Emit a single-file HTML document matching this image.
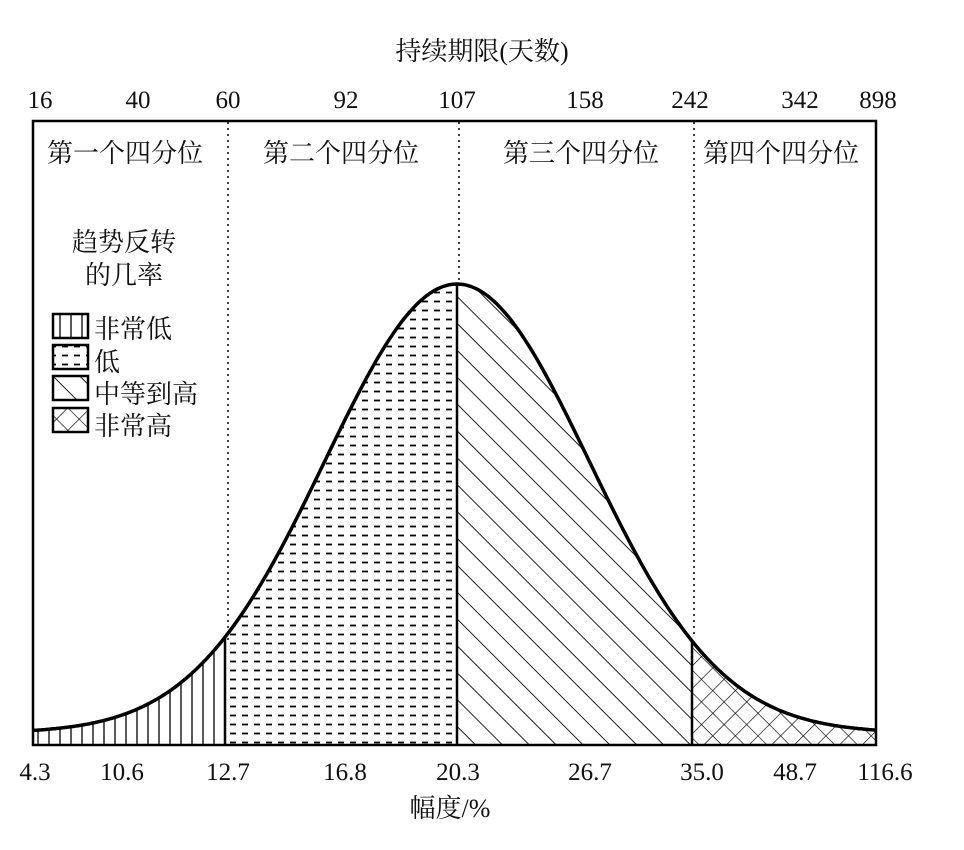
<!DOCTYPE html>
<html><head><meta charset="utf-8"><style>
body{margin:0;background:#fff;width:964px;height:850px;overflow:hidden}
svg{display:block}
text{fill:#111}
.n{font-family:"Liberation Serif",serif;font-size:25px}
.c{font-family:"Liberation Serif","Noto Serif CJK SC",serif;font-size:26px}
</style></head><body>
<svg id="s" width="964" height="850" xmlns="http://www.w3.org/2000/svg">
<defs>
<pattern id="pv" width="11" height="10" patternUnits="userSpaceOnUse"><line x1="5" y1="0" x2="5" y2="10" stroke="#000" stroke-width="1.3"/></pattern>
<pattern id="pd" width="12" height="9" patternUnits="userSpaceOnUse"><line x1="2" y1="4.5" x2="8" y2="4.5" stroke="#000" stroke-width="1.8"/></pattern>
<pattern id="ph" width="19" height="19" patternUnits="userSpaceOnUse" patternTransform="rotate(45)"><line x1="0" y1="0" x2="19" y2="0" stroke="#000" stroke-width="1.8"/></pattern>
<pattern id="px" width="16" height="16" patternUnits="userSpaceOnUse" patternTransform="rotate(45)"><line x1="0" y1="0" x2="16" y2="0" stroke="#000" stroke-width="1.3"/><line x1="0" y1="0" x2="0" y2="16" stroke="#000" stroke-width="1.3"/></pattern>
<clipPath id="cl"><path id="cp"/></clipPath>
</defs>
<text class="c" x="482" y="60" text-anchor="middle" font-size="27">持续期限(天数)</text>
<g class="n" text-anchor="middle">
<text x="40" y="108">16</text><text x="138" y="108">40</text><text x="228" y="108">60</text><text x="346" y="108">92</text><text x="457" y="108">107</text><text x="585" y="108">158</text><text x="690" y="108">242</text><text x="800" y="108">342</text><text x="878" y="108">898</text>
<text x="35" y="780">4.3</text><text x="122" y="780">10.6</text><text x="228" y="780">12.7</text><text x="345" y="780">16.8</text><text x="458" y="780">20.3</text><text x="590" y="780">26.7</text><text x="702" y="780">35.0</text><text x="795" y="780">48.7</text><text x="885" y="780">116.6</text>
</g>
<text class="c" x="450" y="817" text-anchor="middle">幅度/%</text>
<g clip-path="url(#cl)">
<rect x="33" y="250" width="192" height="500" fill="url(#pv)"/>
<rect x="225" y="250" width="232" height="500" fill="url(#pd)"/>
<rect x="457" y="250" width="235" height="500" fill="url(#ph)"/>
<rect x="692" y="250" width="184" height="500" fill="url(#px)"/>
</g>
<rect x="33" y="121" width="843" height="624" fill="none" stroke="#000" stroke-width="2.5"/>
<g stroke="#000" stroke-width="1.5" stroke-dasharray="2,4">
<line x1="228" y1="122" x2="228" y2="640"/><line x1="459" y1="122" x2="459" y2="284"/><line x1="694" y1="122" x2="694" y2="634"/>
</g>
<g id="dv" stroke="#000" stroke-width="2.5"></g>
<path id="cv" fill="none" stroke="#000" stroke-width="3.5"/>
<g class="c" font-size="27">
<text x="47" y="162">第一个四分位</text><text x="263" y="162">第二个四分位</text><text x="503" y="162">第三个四分位</text><text x="703" y="162">第四个四分位</text>
<text x="124" y="251" text-anchor="middle">趋势反转</text><text x="124" y="284" text-anchor="middle">的几率</text>
<text x="94" y="338">非常低</text><text x="94" y="371">低</text><text x="94" y="403">中等到高</text><text x="94" y="435">非常高</text>
</g>
<rect x="53" y="314" width="35" height="24" fill="url(#pv)" stroke="#000" stroke-width="2.5"/>
<rect x="53" y="345" width="35" height="24" fill="url(#pd)" stroke="#000" stroke-width="2.5"/>
<rect x="53" y="376" width="35" height="24" fill="url(#ph)" stroke="#000" stroke-width="2.5"/>
<rect x="53" y="408" width="35" height="24" fill="url(#px)" stroke="#000" stroke-width="2.5"/>
</svg>
<script>
function h(x){var d=x-457;return 745-(12+449*Math.exp(-d*d/(2*132*132)));}
var p="",i;for(i=33;i<=876;i+=2){p+=(i==33?"M":"L")+i+","+h(i).toFixed(1);}
document.getElementById("cv").setAttribute("d",p);
document.getElementById("cp").setAttribute("d",p+"L876,745L33,745Z");
var g=document.getElementById("dv"),ns="http://www.w3.org/2000/svg";
[225,457,692].forEach(function(x){var l=document.createElementNS(ns,"line");l.setAttribute("x1",x);l.setAttribute("x2",x);l.setAttribute("y1",h(x));l.setAttribute("y2",745);g.appendChild(l);});
</script>
</body></html>
